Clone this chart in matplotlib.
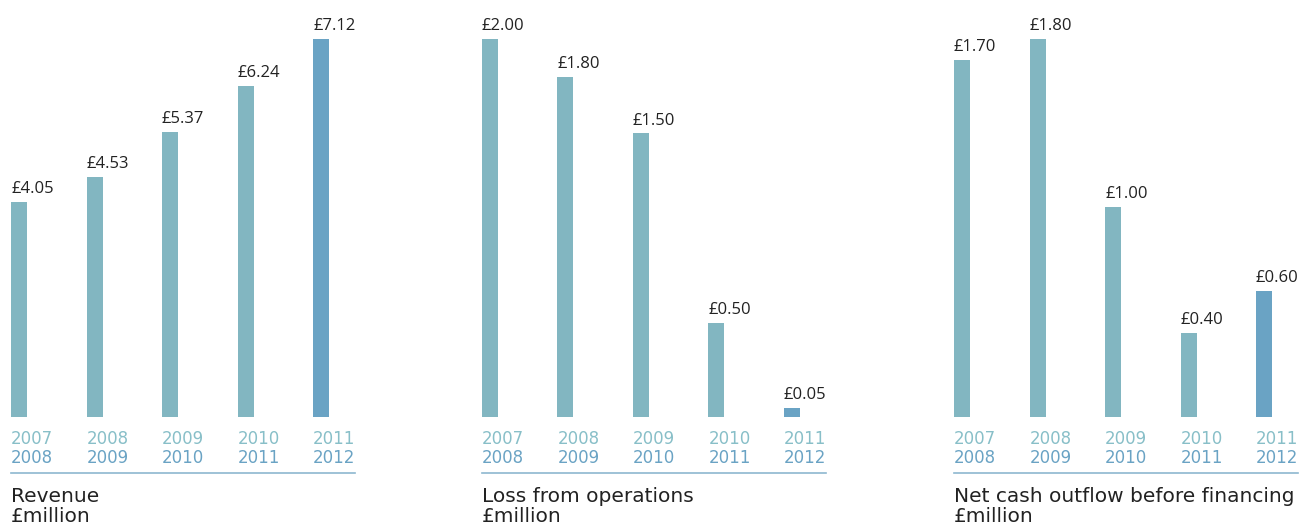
import matplotlib
matplotlib.use("Agg")
import matplotlib.pyplot as plt
import matplotlib.transforms as mtransforms

plt.rcParams['font.family'] = ['Open Sans', 'DejaVu Sans']

years_top = ["2007", "2008", "2009", "2010", "2011"]
years_bottom = ["2008", "2009", "2010", "2011", "2012"]

revenue = [4.05, 4.53, 5.37, 6.24, 7.12]
loss_ops = [2.00, 1.80, 1.50, 0.50, 0.05]
net_cash = [1.70, 1.80, 1.00, 0.40, 0.60]

titles = ["Revenue", "Loss from operations", "Net cash outflow before financing"]
unit = "£million"
panels = [revenue, loss_ops, net_cash]

BAR = "#82b6c1"
HILITE = "#6aa3c4"
YEAR_TOP = "#88bfc8"
YEAR_BOT = "#6aa3c4"
LINE = "#8db8d0"
TEXT = "#222222"
WIDE = ['DejaVu Sans']

W, H = 1301, 526
fig = plt.figure(figsize=(W / 100, H / 100), dpi=100)

left_px = [11, 482, 954]
width_px = 344
bottom_px = 417
top_px = 39
spacing = 75.5
bw = 16 / spacing

for k, (vals, title) in enumerate(zip(panels, titles)):
    ax = fig.add_axes([left_px[k] / W, (H - bottom_px) / H, width_px / W, (bottom_px - top_px) / H])
    xs = list(range(len(vals)))
    colors = [BAR] * (len(vals) - 1) + [HILITE]
    ax.bar(xs, vals, width=bw, align='edge', color=colors)
    ax.set_xlim(0, width_px / spacing)
    ax.set_ylim(0, max(vals))
    ax.axis('off')
    for x, v in zip(xs, vals):
        ax.annotate(f"£{v:.2f}", (x, v), xytext=(0, 3.5), textcoords='offset points',
                    ha='left', va='bottom', fontsize=12, color=TEXT, annotation_clip=False,
                    family=['Open Sans'])
    h = bottom_px - top_px
    trans = mtransforms.blended_transform_factory(ax.transData, ax.transAxes)
    for x, yt, yb in zip(xs, years_top, years_bottom):
        ax.text(x, -22 / h, yt, transform=trans, ha='left', va='center', fontsize=12,
                color=YEAR_TOP, family=WIDE)
        ax.text(x, -41 / h, yb, transform=trans, ha='left', va='center', fontsize=12,
                color=YEAR_BOT, family=WIDE)
    ax.plot([0, 1], [-56 / h, -56 / h], transform=ax.transAxes, color=LINE, lw=1.2, clip_on=False)
    ax.text(0, -80 / h, title, transform=ax.transAxes, ha='left', va='center', fontsize=14.5,
            color=TEXT, family=WIDE)
    ax.text(0, -100 / h, unit, transform=ax.transAxes, ha='left', va='center', fontsize=14.5,
            color=TEXT, family=WIDE)

fig.savefig("out.png", dpi=100)
